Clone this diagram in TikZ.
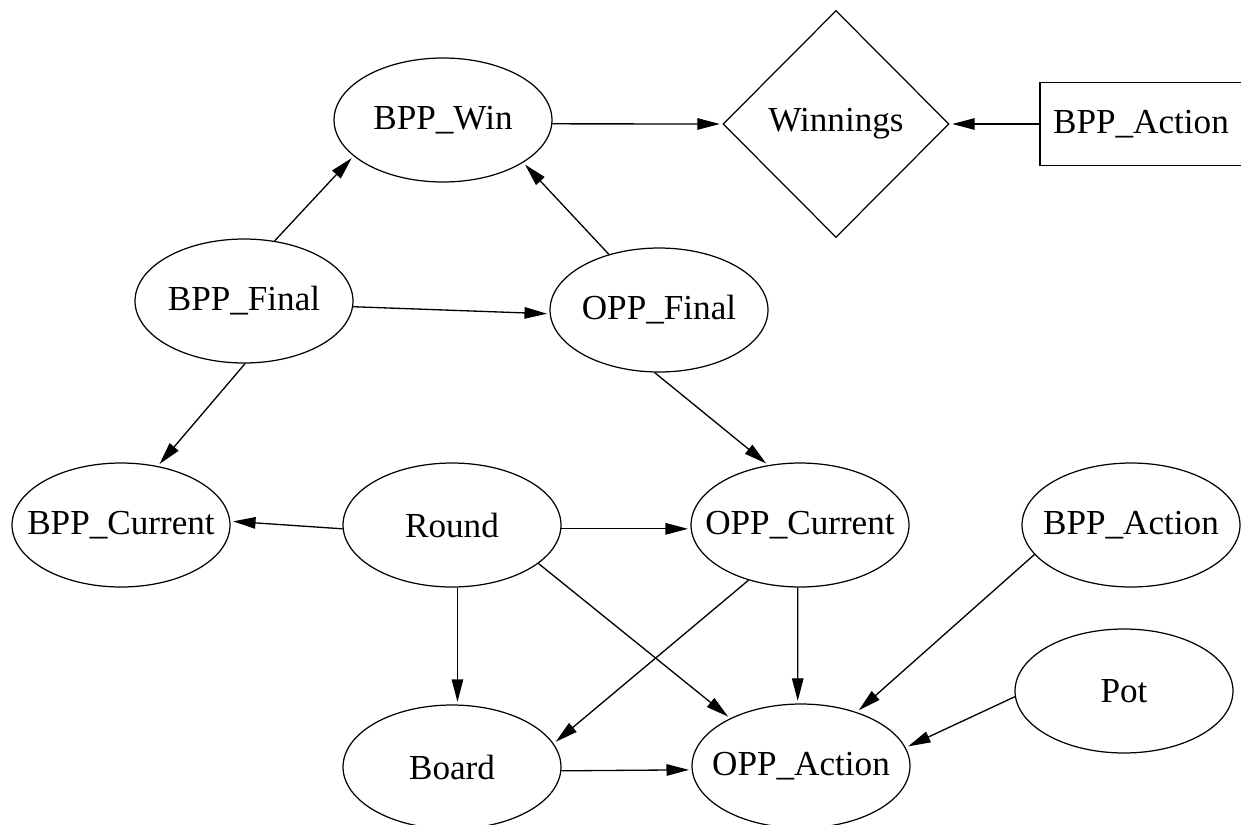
\documentclass[tikz,border=0pt]{standalone}
\usepackage{fontspec}
\setmainfont{Liberation Serif}
\usepackage{tikz}
\usetikzlibrary{arrows.meta,shapes.geometric}
\newcommand{\nlbl}[1]{\makebox[0pt]{#1}}
\tikzset{
  chance/.style={ellipse, draw=black, line width=0.7pt, inner sep=0pt,
                 minimum width=4.36cm, minimum height=2.48cm, font=\fontsize{20}{24}\selectfont},
  utility/.style={diamond, draw=black, line width=0.7pt, inner sep=0pt,
                  minimum width=4.52cm, minimum height=4.54cm, font=\fontsize{20}{24}\selectfont},
  decision/.style={rectangle, draw=black, line width=0.7pt, inner sep=0pt,
                   minimum width=4.04cm, minimum height=1.66cm, font=\fontsize{20}{24}\selectfont},
  flow/.style={-{Triangle[length=4.5mm, width=2.3mm]}, draw=black, line width=0.75pt, shorten >=1.5pt}
}
\begin{document}
\begin{tikzpicture}[x=0.02cm, y=-0.02cm]
  \useasboundingbox (0,0) rectangle (1241,825);
  \node[chance] (win) at (443,120) {\nlbl{BPP\_Win}};
  \node[utility] (winnings) at (836,124) {\nlbl{Winnings}};
  \node[decision] (bppdec) at (1141,124) {\nlbl{BPP\_Action}};
  \node[chance] (bppfinal) at (244,301) {\nlbl{BPP\_Final}};
  \node[chance] (oppfinal) at (659,310) {\nlbl{OPP\_Final}};
  \node[chance] (bppcur) at (121,525) {\nlbl{BPP\_Current}};
  \node[chance] (round) at (452,525) {\nlbl{Round}};
  \node[chance] (oppcur) at (800,525) {\nlbl{OPP\_Current}};
  \node[chance] (bppact) at (1131,525) {\nlbl{BPP\_Action}};
  \node[chance] (pot) at (1124,691) {\nlbl{Pot}};
  \node[chance] (board) at (452,767) {\nlbl{Board}};
  \node[chance] (oppact) at (801,766) {\nlbl{OPP\_Action}};
  \draw[flow] (win.-2) -- (winnings.west);
  \draw[flow] (bppdec.west) -- (winnings.east);
  \draw[flow] (bppfinal.63) -- (win.202);
  \draw[flow] (oppfinal.132) -- (win.332);
  \draw[flow] (bppfinal.-3) -- (oppfinal.182);
  \draw[flow] (bppfinal.271) -- (bppcur.58);
  \draw[flow] (oppfinal.266) -- (oppcur.118);
  \draw[flow] (round.182) -- (bppcur.2);
  \draw[flow] (round.-2) -- (oppcur.182);
  \draw[flow] (round.275) -- (board.85);
  \draw[flow] (round.336) -- (oppact.146);
  \draw[flow] (oppcur.227) -- (board.13);
  \draw[flow] (oppcur.268) -- (oppact.93);
  \draw[flow] (bppact.197) -- (oppact.44);
  \draw[flow] (pot.183) -- (oppact.10);
  \draw[flow] (board.-2) -- (oppact.182);
\end{tikzpicture}
\end{document}
